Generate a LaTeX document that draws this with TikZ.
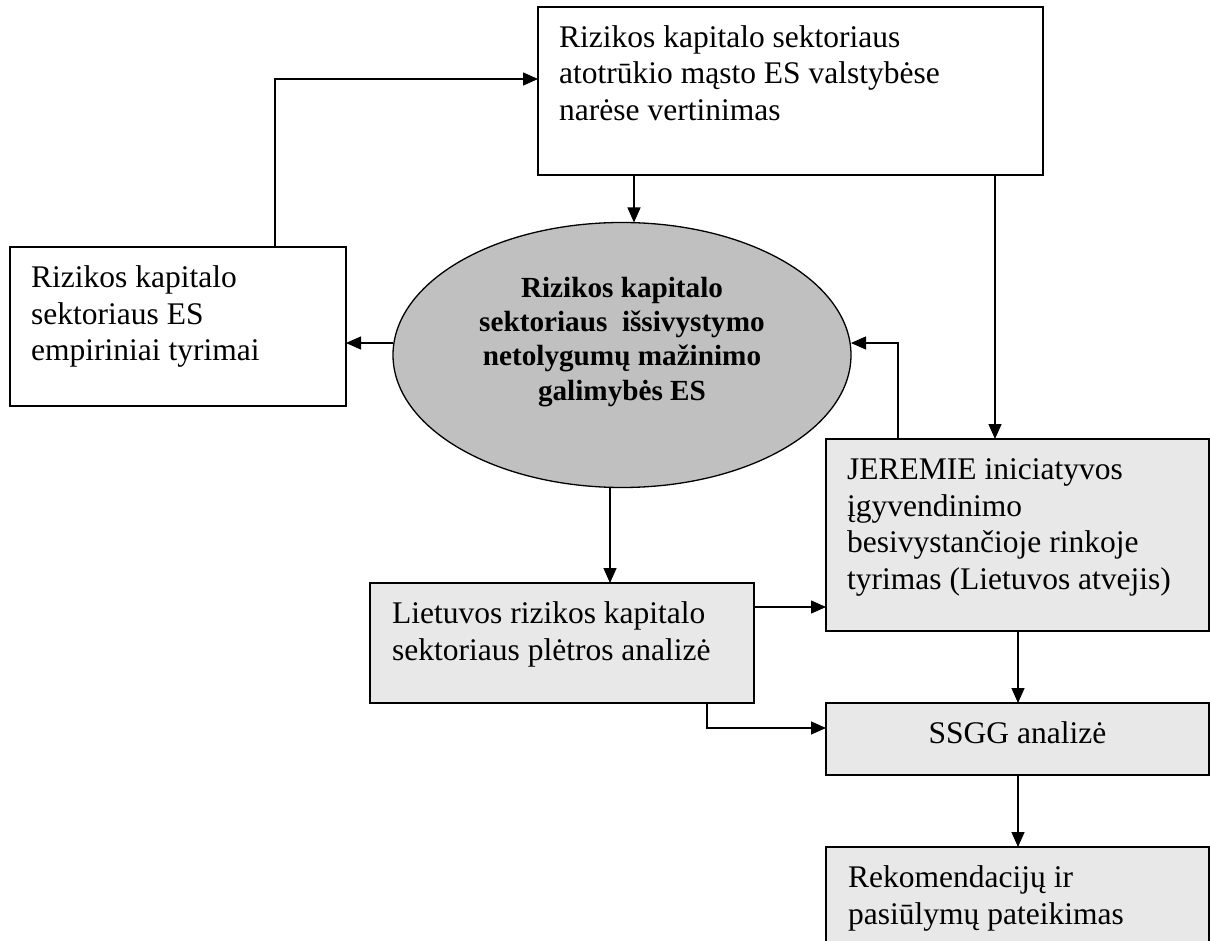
\documentclass[tikz,border=0pt]{standalone}
\usepackage{fontspec}
\setmainfont{Liberation Serif}
\usetikzlibrary{arrows.meta,shapes.geometric}
\definecolor{ellgray}{HTML}{C0C0C0}
\definecolor{boxgray}{HTML}{E8E8E8}
\newcommand{\firstline}{\rule{0pt}{24pt}}
\tikzset{
  box/.style={draw, line width=1.3pt, rectangle, inner sep=0pt, outer sep=0pt, anchor=north west},
  wbox/.style={box, fill=white},
  gbox/.style={box, fill=boxgray},
  ellnode/.style={draw, line width=1.3pt, ellipse, fill=ellgray, inner sep=0pt, outer sep=0pt,
    minimum width=458pt, minimum height=265pt},
  txt/.style={anchor=north west, inner sep=0pt, align=left, font=\fontsize{31.5}{36.8}\selectfont},
  btxt/.style={anchor=north, inner sep=0pt, align=center, font=\bfseries\fontsize{29.2}{34.3}\selectfont},
  arr/.style={line width=1.3pt, -{Triangle[length=15pt,width=13pt]}}
}
\begin{document}
\begin{tikzpicture}[x=1pt,y=-1pt]
\useasboundingbox (0,0) rectangle (1210,941);
\clip (0,0) rectangle (1210,941);

% boxes
\node[wbox, minimum width=505pt, minimum height=168pt] (top) at (538,7) {};
\node[wbox, minimum width=336pt, minimum height=159pt] (left) at (10,247) {};
\node[ellnode] (ell) at (622,355) {};
\node[gbox, minimum width=383pt, minimum height=192pt] (jer) at (826,439) {};
\node[gbox, minimum width=384pt, minimum height=120pt] (lit) at (370,583) {};
\node[gbox, minimum width=383pt, minimum height=72pt] (ssgg) at (826,703) {};
\node[gbox, minimum width=383pt, minimum height=140pt] (rek) at (826,847) {};

% texts
\node[txt] (topT) at (559,23) {\firstline Rizikos kapitalo sektoriaus\\atotrūkio mąsto ES valstybėse\\narėse vertinimas};
\node[txt] (leftT) at (31,263) {\firstline Rizikos kapitalo\\sektoriaus ES\\empiriniai tyrimai};
\node[btxt] (ellT) at (622,273) {\firstline Rizikos kapitalo\\sektoriaus\ \ išsivystymo\\netolygumų mažinimo\\galimybės ES};
\node[txt] (jerT) at (847,455) {\firstline JEREMIE iniciatyvos\\įgyvendinimo\\besivystančioje rinkoje\\tyrimas (Lietuvos atvejis)};
\node[txt] (litT) at (392,599) {\firstline Lietuvos rizikos kapitalo\\sektoriaus plėtros analizė};
\node[anchor=base, inner sep=0pt, font=\fontsize{31.5}{36.8}\selectfont] (ssggT) at (1017.5,743) {SSGG analizė};
\node[txt] (rekT) at (848,863) {\firstline Rekomendacijų ir\\pasiūlymų pateikimas};

% connectors
\draw[arr] (275,0 |- left.north) |- (top.west |- 0,79);
\draw[arr] (634,0 |- top.south) -- (634,0 |- ell.north);
\draw[arr] (995,0 |- top.south) -- (995,0 |- jer.north);
\draw[arr] (898,0 |- jer.north) |- (ell.east |- 0,343);
\draw[arr] (ell.west |- 0,343) -- (left.east |- 0,343);
\draw[arr] (610,0 |- ell.south) -- (610,0 |- lit.north);
\draw[arr] (lit.east |- 0,607) -- (jer.west |- 0,607);
\draw[arr] (707,0 |- lit.south) |- (ssgg.west |- 0,728);
\draw[arr] (1018,0 |- jer.south) -- (1018,0 |- ssgg.north);
\draw[arr] (1018,0 |- ssgg.south) -- (1018,0 |- rek.north);
\end{tikzpicture}
\end{document}
